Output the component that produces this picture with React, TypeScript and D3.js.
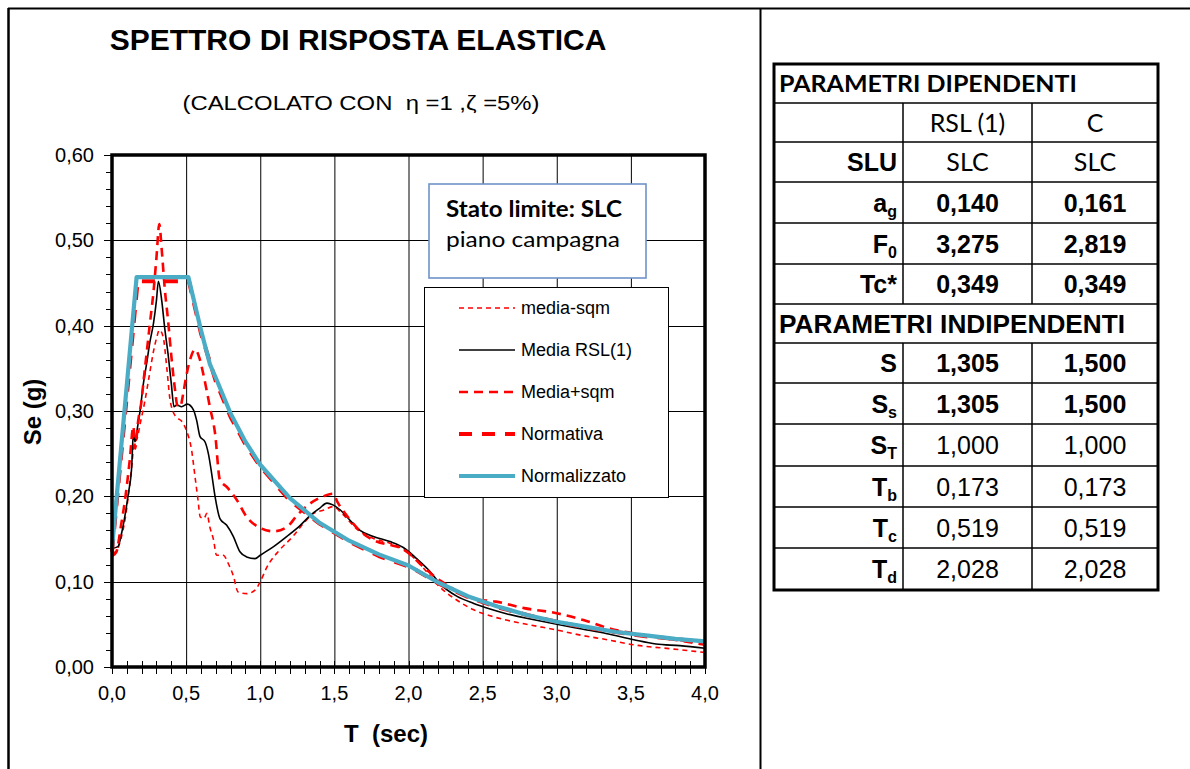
import React from 'react';
import * as d3 from 'd3';

type Pt = [number, number];

// Axis ticks
const xTicks = [0, 0.5, 1, 1.5, 2, 2.5, 3, 3.5, 4];
const yTicks = [0, 0.1, 0.2, 0.3, 0.4, 0.5, 0.6];

// Spectra: [T (sec), Se (g)]
const mediaMinusSqm: Pt[] = [
  [0.0, 0.133], [0.03, 0.136], [0.06, 0.15], [0.09, 0.175], [0.11, 0.2], [0.13, 0.23], [0.15, 0.262],
  [0.17, 0.268], [0.19, 0.285], [0.22, 0.31], [0.25, 0.34], [0.28, 0.37], [0.3, 0.385], [0.32, 0.395],
  [0.345, 0.387], [0.37, 0.35], [0.39, 0.315], [0.41, 0.3], [0.44, 0.292], [0.47, 0.288], [0.5, 0.278],
  [0.537, 0.254], [0.56, 0.223], [0.58, 0.196], [0.595, 0.176], [0.62, 0.174], [0.64, 0.18], [0.66, 0.164],
  [0.685, 0.149], [0.705, 0.131], [0.75, 0.131], [0.785, 0.121], [0.82, 0.106], [0.85, 0.088], [0.91, 0.086],
  [0.965, 0.09], [1.0, 0.1], [1.045, 0.117], [1.13, 0.137], [1.22, 0.153], [1.29, 0.168], [1.36, 0.18],
  [1.43, 0.184], [1.49, 0.188], [1.55, 0.18], [1.65, 0.162], [1.76, 0.151], [1.875, 0.145], [1.99, 0.135],
  [2.1, 0.116], [2.21, 0.094], [2.325, 0.0785], [2.44, 0.067], [2.55, 0.06], [2.66, 0.055], [2.83, 0.049],
  [3.0, 0.0434], [3.17, 0.037], [3.34, 0.032], [3.52, 0.026], [3.79, 0.021], [4.0, 0.017],
];

const mediaRsl: Pt[] = [
  [0.0, 0.139], [0.04, 0.141], [0.065, 0.157], [0.09, 0.18], [0.11, 0.203], [0.133, 0.235], [0.144, 0.274],
  [0.155, 0.264], [0.173, 0.282], [0.19, 0.301], [0.21, 0.33], [0.234, 0.356], [0.255, 0.38], [0.28, 0.403],
  [0.3, 0.43], [0.313, 0.452], [0.335, 0.43], [0.357, 0.395], [0.38, 0.364], [0.4, 0.332], [0.418, 0.305],
  [0.436, 0.307], [0.47, 0.305], [0.508, 0.308], [0.55, 0.301], [0.571, 0.289], [0.594, 0.27], [0.627, 0.264],
  [0.65, 0.25], [0.672, 0.227], [0.695, 0.2], [0.728, 0.174], [0.774, 0.166], [0.818, 0.153], [0.863, 0.135],
  [0.908, 0.129], [0.965, 0.127], [1.0, 0.131], [1.09, 0.141], [1.18, 0.153], [1.27, 0.166], [1.34, 0.178],
  [1.4, 0.186], [1.45, 0.192], [1.49, 0.19], [1.54, 0.184], [1.605, 0.172], [1.673, 0.16], [1.763, 0.153],
  [1.875, 0.147], [1.965, 0.14], [2.055, 0.127], [2.145, 0.112], [2.21, 0.098], [2.325, 0.083], [2.44, 0.0745],
  [2.55, 0.068], [2.66, 0.0625], [2.83, 0.056], [3.0, 0.05], [3.17, 0.0445], [3.34, 0.039], [3.52, 0.032],
  [3.67, 0.027], [3.83, 0.025], [4.0, 0.022],
];

const mediaPlusSqm: Pt[] = [
  [0.0, 0.13], [0.03, 0.135], [0.06, 0.165], [0.088, 0.196], [0.12, 0.243], [0.144, 0.282], [0.155, 0.256],
  [0.177, 0.289], [0.2, 0.313], [0.211, 0.332], [0.235, 0.37], [0.256, 0.403], [0.28, 0.44], [0.3, 0.48],
  [0.319, 0.519], [0.335, 0.49], [0.355, 0.445], [0.38, 0.403], [0.4, 0.365], [0.425, 0.325], [0.44, 0.307],
  [0.46, 0.305], [0.48, 0.32], [0.5, 0.34], [0.53, 0.362], [0.56, 0.372], [0.59, 0.362], [0.62, 0.34],
  [0.66, 0.305], [0.695, 0.274], [0.728, 0.219], [0.774, 0.211], [0.841, 0.196], [0.908, 0.176], [1.0, 0.163],
  [1.09, 0.159], [1.18, 0.164], [1.25, 0.178], [1.34, 0.192], [1.425, 0.2], [1.49, 0.203], [1.525, 0.192],
  [1.59, 0.176], [1.67, 0.16], [1.785, 0.147], [1.875, 0.143], [1.94, 0.14], [1.98, 0.136], [2.1, 0.1175],
  [2.19, 0.104], [2.28, 0.094], [2.36, 0.085], [2.44, 0.08], [2.59, 0.0766], [2.78, 0.069], [3.0, 0.063],
  [3.18, 0.055], [3.38, 0.044], [3.52, 0.0395], [3.79, 0.032], [4.0, 0.026],
];

const normativa: Pt[] = [
  [0.0, 0.135], [0.173, 0.452], [0.519, 0.452], [0.6, 0.391], [0.7, 0.335], [0.8, 0.293], [0.9, 0.261],
  [1.0, 0.235], [1.2, 0.195], [1.4, 0.168], [1.6, 0.147], [1.8, 0.13], [2.028, 0.116], [2.2, 0.098],
  [2.4, 0.082], [2.6, 0.07], [2.8, 0.061], [3.0, 0.053], [3.2, 0.046], [3.4, 0.041], [3.6, 0.036],
  [3.8, 0.033], [4.0, 0.029],
];

const normalizzato: Pt[] = [
  [0.0, 0.139], [0.166, 0.457], [0.515, 0.457], [0.6, 0.395], [0.66, 0.355], [0.7, 0.339], [0.8, 0.297],
  [0.9, 0.264], [1.0, 0.237], [1.2, 0.198], [1.4, 0.169], [1.6, 0.148], [1.8, 0.132], [2.0, 0.119],
  [2.2, 0.099], [2.4, 0.083], [2.6, 0.071], [2.8, 0.061], [3.0, 0.053], [3.2, 0.047], [3.4, 0.041],
  [3.6, 0.037], [3.8, 0.033], [4.0, 0.03],
];

const seriesNames = ['media-sqm', 'Media RSL(1)', 'Media+sqm', 'Normativa', 'Normalizzato'];

// Parameter table
const columnHeads = ['RSL (1)', 'C'];
const sluValues = ['SLC', 'SLC'];
const agValues = [0.14, 0.161];
const f0Values = [3.275, 2.819];
const tcStarValues = [0.349, 0.349];
const sValues = [1.305, 1.5];
const ssValues = [1.305, 1.5];
const stValues = [1.0, 1.0];
const tbValues = [0.173, 0.173];
const tcValues = [0.519, 0.519];
const tdValues = [2.028, 2.028];

const itLocale = d3.formatLocale({ decimal: ',', thousands: '.', grouping: [3], currency: ['', '€'] });
const fmtY = itLocale.format('.2f');
const fmtX = itLocale.format('.1f');
const fmt3 = itLocale.format('.3f');

const ARIAL = '"Liberation Sans", Arial, Helvetica, sans-serif';
const CALIBRI = 'Lato, "Open Sans", sans-serif';
const RED = '#ff0000';
const BLUE = '#4bacc6';

export default function App() {
  const W = 1190;
  const H = 769;
  const plot = { left: 112, right: 705, top: 155, bottom: 667 };

  const x = d3.scaleLinear().domain([0, 4]).range([plot.left, plot.right]);
  const y = d3.scaleLinear().domain([0, 0.6]).range([plot.bottom, plot.top]);

  const smooth = d3.line<Pt>().x((d) => x(d[0])).y((d) => y(d[1])).curve(d3.curveMonotoneX);
  const straight = d3.line<Pt>().x((d) => x(d[0])).y((d) => y(d[1]));

  const series = [
    { name: seriesNames[0], data: mediaMinusSqm, gen: smooth, stroke: RED, width: 1.6, dash: '5,4' },
    { name: seriesNames[1], data: mediaRsl, gen: smooth, stroke: '#000', width: 1.6, dash: undefined },
    { name: seriesNames[2], data: mediaPlusSqm, gen: smooth, stroke: RED, width: 2.6, dash: '9,6' },
    { name: seriesNames[3], data: normativa, gen: straight, stroke: RED, width: 4, dash: '13,10' },
    { name: seriesNames[4], data: normalizzato, gen: straight, stroke: BLUE, width: 4.2, dash: undefined },
  ];

  const minorY = d3.range(0, 0.6001, 0.02);
  const minorX = d3.range(0, 4.0001, 0.1);

  // legend geometry
  const legend = { x: 424, y: 287, w: 244, h: 210 };
  const legendRowY = (i: number) => 308 + i * 42;

  // table geometry
  const colX = [774, 903, 1032, 1158];
  const rowY = [64, 103, 142, 182, 223, 264, 304, 343, 383, 424, 466, 507, 548, 590];
  const colMid = [(colX[1] + colX[2]) / 2, (colX[2] + colX[3]) / 2];
  const rowMid = (i: number) => (rowY[i] + rowY[i + 1]) / 2;

  type ParamRow = { row: number; main: string; sub?: string; values: number[]; bold: boolean };
  const paramRows: ParamRow[] = [
    { row: 3, main: 'a', sub: 'g', values: agValues, bold: true },
    { row: 4, main: 'F', sub: '0', values: f0Values, bold: true },
    { row: 5, main: 'Tc*', values: tcStarValues, bold: true },
    { row: 7, main: 'S', values: sValues, bold: true },
    { row: 8, main: 'S', sub: 's', values: ssValues, bold: true },
    { row: 9, main: 'S', sub: 'T', values: stValues, bold: false },
    { row: 10, main: 'T', sub: 'b', values: tbValues, bold: false },
    { row: 11, main: 'T', sub: 'c', values: tcValues, bold: false },
    { row: 12, main: 'T', sub: 'd', values: tdValues, bold: false },
  ];

  return (
    <svg
      width={W}
      height={H}
      viewBox={`0 0 ${W} ${H}`}
      style={{ position: 'absolute', left: 0, top: 0, background: '#fff' }}
    >
      <rect x={0} y={0} width={W} height={H} fill="#fff" />

      {/* outer frame */}
      <line x1={8} x2={W} y1={8.5} y2={8.5} stroke="#000" strokeWidth={2} />
      <line x1={8.5} x2={8.5} y1={8} y2={H} stroke="#000" strokeWidth={2.5} />
      <line x1={760.5} x2={760.5} y1={8} y2={H} stroke="#000" strokeWidth={2} />

      {/* titles */}
      <text x={358} y={50} textAnchor="middle" fontFamily={ARIAL} fontWeight="bold" fontSize={30} fill="#000">
        SPETTRO DI RISPOSTA ELASTICA
      </text>
      <text
        x={361}
        y={110}
        textAnchor="middle"
        fontFamily={ARIAL}
        fontSize={21}
        fill="#000"
        textLength={357}
        lengthAdjust="spacingAndGlyphs"
        style={{ whiteSpace: 'pre' }}
      >
        {'(CALCOLATO CON  \u03b7 =1 ,\u03b6 =5%)'}
      </text>

      {/* grid */}
      <g stroke="#000" strokeWidth={1}>
        {xTicks.slice(1, -1).map((t) => (
          <line key={'gx' + t} x1={x(t) + 0.5} x2={x(t) + 0.5} y1={plot.top} y2={plot.bottom} />
        ))}
        {yTicks.slice(1, -1).map((t) => (
          <line key={'gy' + t} x1={plot.left} x2={plot.right} y1={Math.round(y(t)) + 0.5} y2={Math.round(y(t)) + 0.5} />
        ))}
      </g>

      {/* minor ticks */}
      <g stroke="#000" strokeWidth={1}>
        {minorY.map((t, i) => (
          <line key={'ty' + i} x1={plot.left - (i % 5 === 0 ? 8 : 6)} x2={plot.left} y1={Math.round(y(t)) + 0.5} y2={Math.round(y(t)) + 0.5} />
        ))}
        {minorX.map((t, i) => (
          <line key={'tx' + i} x1={Math.round(x(t)) + 0.5} x2={Math.round(x(t)) + 0.5} y1={plot.bottom - 6} y2={plot.bottom + 7} />
        ))}
      </g>

      {/* series */}
      <g fill="none" strokeLinejoin="round">
        {series.map((s) => (
          <path
            key={s.name}
            d={s.gen(s.data) ?? ''}
            stroke={s.stroke}
            strokeWidth={s.width}
            strokeDasharray={s.dash}
          />
        ))}
      </g>

      {/* plot border */}
      <rect
        x={plot.left}
        y={plot.top}
        width={plot.right - plot.left}
        height={plot.bottom - plot.top}
        fill="none"
        stroke="#000"
        strokeWidth={3.5}
      />

      {/* tick labels */}
      <g fontFamily={ARIAL} fontSize={20} fill="#000">
        {yTicks.map((t) => (
          <text key={'ly' + t} x={94} y={y(t) + 7} textAnchor="end">
            {fmtY(t)}
          </text>
        ))}
        {xTicks.map((t) => (
          <text key={'lx' + t} x={x(t)} y={700} textAnchor="middle">
            {fmtX(t)}
          </text>
        ))}
      </g>

      {/* axis titles */}
      <text
        transform="translate(41,412) rotate(-90)"
        textAnchor="middle"
        fontFamily={ARIAL}
        fontWeight="bold"
        fontSize={24}
        fill="#000"
      >
        Se (g)
      </text>
      <text x={386} y={742} textAnchor="middle" fontFamily={ARIAL} fontWeight="bold" fontSize={24} fill="#000" style={{ whiteSpace: 'pre' }}>
        {'T  (sec)'}
      </text>

      {/* limit state box */}
      <rect x={429} y={184} width={217} height={94} fill="#fff" stroke="#6d93c8" strokeWidth={1.6} />
      <text x={446} y={217} fontFamily={CALIBRI} fontWeight="bold" fontSize={22} fill="#000" textLength={176} lengthAdjust="spacingAndGlyphs">
        Stato limite: SLC
      </text>
      <text x={446} y={247} fontFamily={CALIBRI} fontSize={22} fill="#000" textLength={174} lengthAdjust="spacingAndGlyphs">
        piano campagna
      </text>

      {/* legend */}
      <rect x={legend.x + 0.5} y={legend.y + 0.5} width={legend.w} height={legend.h} fill="#fff" stroke="#000" strokeWidth={1} />
      {series.map((s, i) => (
        <g key={'lg' + s.name}>
          <line
            x1={459}
            x2={515}
            y1={legendRowY(i)}
            y2={legendRowY(i)}
            stroke={s.stroke}
            strokeWidth={s.width}
            strokeDasharray={s.dash}
          />
          <text x={521} y={legendRowY(i) + 6} fontFamily={ARIAL} fontSize={18} fill="#000">
            {s.name}
          </text>
        </g>
      ))}

      {/* parameter table */}
      <g>
        <rect x={colX[0]} y={rowY[0]} width={colX[3] - colX[0]} height={rowY[rowY.length - 1] - rowY[0]} fill="#fff" />
        {rowY.slice(1, -1).map((ry, i) => (
          <line key={'rl' + i} x1={colX[0]} x2={colX[3]} y1={ry} y2={ry} stroke="#000" strokeWidth={1.5} />
        ))}
        {[1, 2].map((c) => (
          <g key={'cl' + c}>
            <line x1={colX[c]} x2={colX[c]} y1={rowY[1]} y2={rowY[6]} stroke="#000" strokeWidth={1.5} />
            <line x1={colX[c]} x2={colX[c]} y1={rowY[7]} y2={rowY[13]} stroke="#000" strokeWidth={1.5} />
          </g>
        ))}
        <rect
          x={colX[0]}
          y={rowY[0]}
          width={colX[3] - colX[0]}
          height={rowY[rowY.length - 1] - rowY[0]}
          fill="none"
          stroke="#000"
          strokeWidth={3}
        />

        <text x={779} y={rowMid(0) + 8} fontFamily={CALIBRI} fontWeight="bold" fontSize={23} fill="#000" textLength={298} lengthAdjust="spacingAndGlyphs">
          PARAMETRI DIPENDENTI
        </text>
        <text x={779} y={rowMid(6) + 9} fontFamily={ARIAL} fontWeight="bold" fontSize={25} fill="#000" textLength={346} lengthAdjust="spacingAndGlyphs">
          PARAMETRI INDIPENDENTI
        </text>

        {columnHeads.map((h, i) => (
          <text key={'ch' + i} x={colMid[i]} y={rowMid(1) + 9} textAnchor="middle" fontFamily={CALIBRI} fontSize={25} fill="#000">
            {h}
          </text>
        ))}
        <text x={897} y={rowMid(2) + 9} textAnchor="end" fontFamily={ARIAL} fontWeight="bold" fontSize={25} fill="#000">
          SLU
        </text>
        {sluValues.map((v, i) => (
          <text key={'slu' + i} x={colMid[i]} y={rowMid(2) + 9} textAnchor="middle" fontFamily={CALIBRI} fontSize={25} fill="#000">
            {v}
          </text>
        ))}

        {paramRows.map((r) => (
          <g key={'pr' + r.row}>
            <text x={897} y={rowMid(r.row) + 9} textAnchor="end" fontFamily={ARIAL} fontWeight="bold" fontSize={25} fill="#000">
              <tspan>{r.main}</tspan>
              {r.sub && (
                <tspan fontSize={16} dy={5}>
                  {r.sub}
                </tspan>
              )}
            </text>
            {r.values.map((v, i) => (
              <text
                key={'v' + i}
                x={colMid[i]}
                y={rowMid(r.row) + 9}
                textAnchor="middle"
                fontFamily={ARIAL}
                fontWeight={r.bold ? 'bold' : 'normal'}
                fontSize={25}
                fill="#000"
              >
                {fmt3(v)}
              </text>
            ))}
          </g>
        ))}
      </g>
    </svg>
  );
}
